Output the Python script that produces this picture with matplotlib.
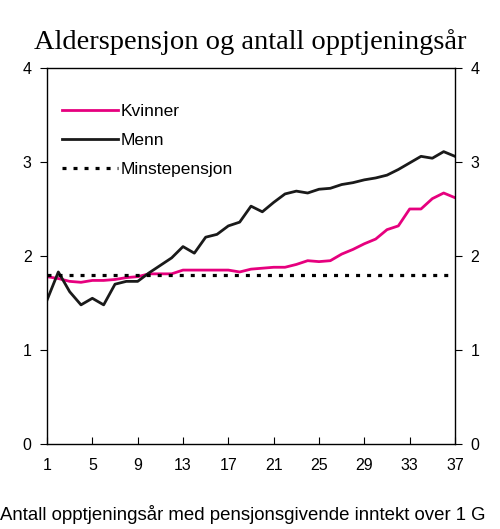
import numpy as np
import matplotlib
matplotlib.use('Agg')
from matplotlib import pyplot as plt

plt.rcParams['font.family'] = ['Liberation Sans', 'DejaVu Sans']

# Years of pension earning (x axis)
years = np.arange(1, 38)

# Old-age pension in G
kvinner = [1.78, 1.76, 1.73, 1.72, 1.74, 1.74, 1.75, 1.77, 1.78, 1.81,
           1.81, 1.81, 1.85, 1.85, 1.85, 1.85, 1.85, 1.83, 1.86, 1.87,
           1.88, 1.88, 1.91, 1.95, 1.94, 1.95, 2.02, 2.07, 2.13, 2.18,
           2.28, 2.32, 2.50, 2.50, 2.61, 2.67, 2.62]
menn = [1.53, 1.83, 1.62, 1.48, 1.55, 1.48, 1.70, 1.73, 1.73, 1.82,
        1.90, 1.98, 2.10, 2.03, 2.20, 2.23, 2.32, 2.36, 2.53, 2.47,
        2.57, 2.66, 2.69, 2.67, 2.71, 2.72, 2.76, 2.78, 2.81, 2.83,
        2.86, 2.92, 2.99, 3.06, 3.04, 3.11, 3.06]
minstepensjon = 1.8

xticks = [1, 5, 9, 13, 17, 21, 25, 29, 33, 37]
yticks = [0, 1, 2, 3, 4]

fig = plt.figure(figsize=(5, 5.29), dpi=100)
ax = fig.add_axes([0.094, 0.1607, 0.816, 0.7108])

ax.plot(years, kvinner, color='#e6007e', lw=2.0, label='Kvinner')
ax.plot(years, menn, color='#1a1a1a', lw=2.0, label='Menn')
ax.plot(years, [minstepensjon] * len(years), color='black', lw=2.3,
        linestyle=(0, (1.25, 2.2)), label='Minstepensjon')

ax.set_xlim(1, 37)
ax.set_ylim(0, 4)
ax.set_xticks(xticks)
ax.set_yticks(yticks)

ax.tick_params(axis='x', direction='in', length=5, labelsize=11.5, pad=10)
ax.tick_params(axis='y', direction='out', length=5, labelsize=11.5,
               left=True, right=True, labelleft=True, labelright=True, pad=6)
for sp in ax.spines.values():
    sp.set_linewidth(1.0)

leg = ax.legend(loc='upper left', bbox_to_anchor=(0.02, 0.922), frameon=False,
                fontsize=12.5, handlelength=3.2, handletextpad=0.15,
                labelspacing=0.78, borderaxespad=0)

fig.text(0.5, 0.921, 'Alderspensjon og antall opptjeningsår',
         family='Liberation Serif', fontsize=20.5, ha='center', va='center')
fig.text(0.0, 0.028, 'Antall opptjeningsår med pensjonsgivende inntekt over 1 G',
         fontsize=13.45, ha='left', va='center')

fig.savefig('out.png', dpi=100)
